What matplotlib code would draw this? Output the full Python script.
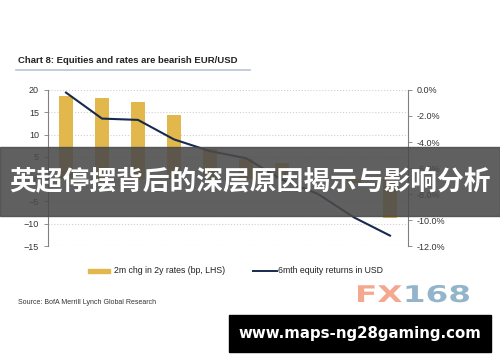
import matplotlib.pyplot as plt
from matplotlib.patches import Rectangle, PathPatch
from matplotlib.textpath import TextPath
from matplotlib.font_manager import FontProperties
from matplotlib.transforms import Affine2D
import numpy as np

plt.rcParams['font.family'] = ['Liberation Sans', 'DejaVu Sans']

# values
cats = list(range(10))
rate_chg = [18.6, 18.3, 17.3, 14.4, 6.8, 4.6, 3.7, -0.4, -0.9, -8.8]
eq_ret = [-0.2, -2.2, -2.3, -3.8, -4.7, -5.25, -6.9, -8.0, -9.8, -11.2]
left_ticks = [20, 15, 10, 5, 0, -5, -10, -15]
right_ticks = [0, -2, -4, -6, -8, -10, -12]

gold = '#e2b84c'
navy = '#172a4e'

fig = plt.figure(figsize=(5, 3.62), dpi=100)
ax = fig.add_axes([0.096, 0.3204, 0.72, 0.431])
ax.bar(cats, rate_chg, width=0.4, color=gold, zorder=2)
ax.set_xlim(-0.5, 9.5)
ax.set_ylim(-15, 20)
ax.set_yticks(left_ticks)
ax.set_xticks([])
ax.grid(axis='y', color='#d0d0d0', linestyle=':', linewidth=0.8, zorder=0)
for s in ['top', 'bottom']:
    ax.spines[s].set_visible(False)
ax.spines['left'].set_color('#808080')
ax.spines['right'].set_visible(False)
ax.tick_params(axis='y', labelsize=6.5, colors='#808080', labelcolor='#333333', length=3, width=0.6)

ax2 = ax.twinx()
ax2.plot(cats, eq_ret, color=navy, linewidth=1.5, zorder=3)
ax2.set_ylim(-12, 0)
ax2.set_yticks(right_ticks)
ax2.set_yticklabels(['%.1f%%' % v for v in right_ticks])
for s in ['top', 'bottom', 'left']:
    ax2.spines[s].set_visible(False)
ax2.spines['right'].set_color('#808080')
ax2.tick_params(axis='y', labelsize=6.5, colors='#808080', labelcolor='#333333', length=3, width=0.6)

# title and underline
fig.text(0.036, 0.834, 'Chart 8: Equities and rates are bearish EUR/USD', fontsize=6.8,
         fontweight='bold', color='#222222', va='center')
fig.add_artist(plt.Line2D([0.032, 0.5], [0.806, 0.806], color='#b8c4d6', linewidth=1.2))

# legend
fig.add_artist(Rectangle((0.176, 0.245), 0.044, 0.013, color=gold, transform=fig.transFigure))
fig.text(0.228, 0.252, '2m chg in 2y rates (bp, LHS)', fontsize=6.3, va='center', color='#222222')
fig.add_artist(plt.Line2D([0.506, 0.553], [0.252, 0.252], color=navy, linewidth=1.4))
fig.text(0.556, 0.252, '6mth equity returns in USD', fontsize=6.3, va='center', color='#222222')

fig.text(0.036, 0.163, 'Source: BofA Merrill Lynch Global Research', fontsize=5, va='center', color='#333333')

# watermark, drawn as wide glyph paths (pixel coords from bottom-left)
fp = FontProperties(family='DejaVu Sans', weight='bold')
x0 = 355
for part, col in [('FX', '#f4a88f'), ('168', '#93b5cb')]:
    tp = TextPath((0, 0), part, size=23, prop=fp)
    w = tp.get_extents().x1
    tr = Affine2D().scale(1.42, 1.0).translate(x0, 362 - 302)
    fig.add_artist(PathPatch(tr.transform_path(tp), color=col, lw=0, transform=None))
    x0 += w * 1.42 + 1

# banner
fig.add_artist(Rectangle((0, 0.403), 1, 0.192, color='#4a4a4a', alpha=0.88,
                         transform=fig.transFigure, zorder=5))
fig.text(0.5, 0.499, '英超停摆背后的深层原因揭示与影响分析', fontsize=19.3, fontweight='bold',
         color='white', ha='center', va='center', family=['Noto Sans CJK SC', 'DejaVu Sans'], zorder=6)

# url box
fig.add_artist(Rectangle((0.458, 0.028), 0.524, 0.102, color='black', transform=fig.transFigure, zorder=5))
fig.text(0.72, 0.079, 'www.maps-ng28gaming.com', fontsize=10.8, fontweight='bold', color='white',
         ha='center', va='center', family=['DejaVu Sans'], zorder=6)

fig.savefig('out.png', dpi=100)
